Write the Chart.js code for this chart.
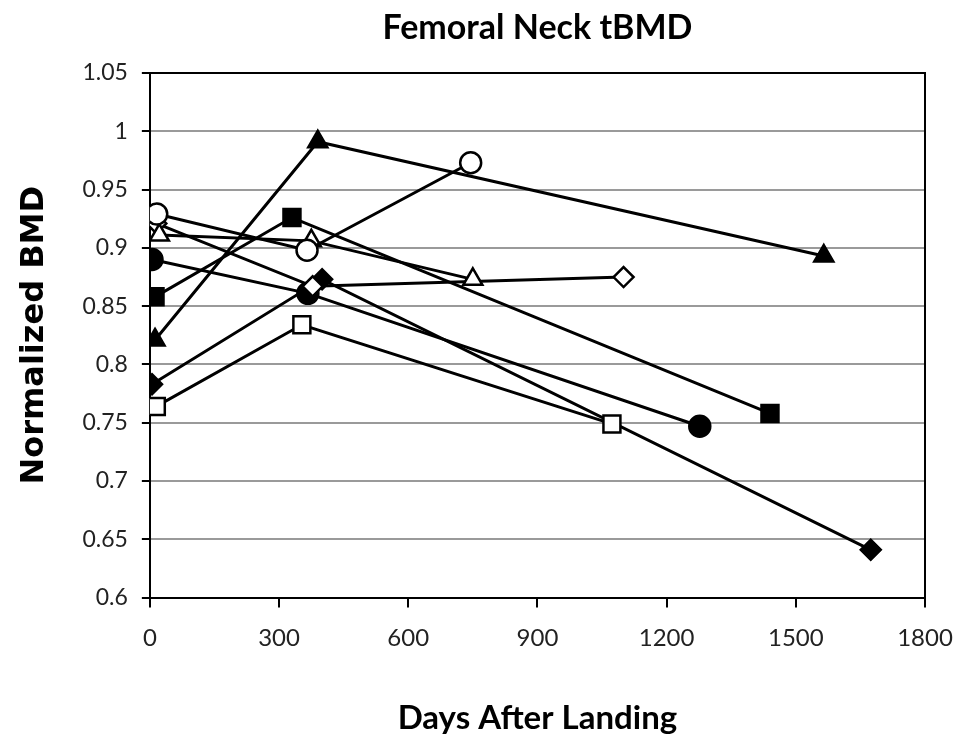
<!DOCTYPE html>
<html>
<head>
<meta charset="utf-8">
<title>Femoral Neck tBMD</title>
<script src="https://cdn.jsdelivr.net/npm/chart.js@4.4.1/dist/chart.umd.min.js"></script>
<style>
  html, body { margin: 0; padding: 0; background: #fff; }
  #wrap { width: 973px; height: 738px; }
</style>
</head>
<body>
<div id="wrap"><canvas id="bmdChart" width="973" height="738"></canvas></div>
<script>
  const chartTitle = 'Femoral Neck tBMD';

  // axis ticks
  const xTicks = [0, 300, 600, 900, 1200, 1500, 1800];
  const yTicks = [0.6, 0.65, 0.7, 0.75, 0.8, 0.85, 0.9, 0.95, 1, 1.05];

  // one subject per marker: days after landing and normalized BMD
  const openSquareDays = [15, 353, 1073];
  const openSquareBMD = [0.764, 0.834, 0.749];

  const filledTriangleDays = [12, 390, 1565];
  const filledTriangleBMD = [0.821, 0.991, 0.893];

  const openCircleDays = [16, 365, 745];
  const openCircleBMD = [0.929, 0.898, 0.973];

  const filledSquareDays = [12, 330, 1440];
  const filledSquareBMD = [0.858, 0.926, 0.758];

  const openTriangleDays = [22, 375, 750];
  const openTriangleBMD = [0.911, 0.906, 0.873];

  const openDiamondDays = [15, 378, 1100];
  const openDiamondBMD = [0.921, 0.867, 0.875];

  const filledCircleDays = [5, 367, 1277];
  const filledCircleBMD = [0.890, 0.861, 0.747];

  const filledDiamondDays = [5, 400, 1674];
  const filledDiamondBMD = [0.783, 0.873, 0.641];

  const fontFamily = 'Lato, "Open Sans", sans-serif';

  function makeSeries(label, days, values, pointStyle, filled, radius) {
    return {
      label,
      data: days.map((d, i) => ({ x: d, y: values[i] })),
      showLine: true,
      borderColor: '#000',
      borderWidth: 3,
      pointStyle,
      pointRadius: radius,
      pointHoverRadius: radius,
      pointBackgroundColor: filled ? '#000' : '#fff',
      pointBorderColor: '#000',
      pointBorderWidth: 2.5,
    };
  }

  const datasets = [
    makeSeries('Open square', openSquareDays, openSquareBMD, 'rect', false, 12),
    makeSeries('Filled triangle', filledTriangleDays, filledTriangleBMD, 'triangle', true, 11),
    makeSeries('Open circle', openCircleDays, openCircleBMD, 'circle', false, 10.5),
    makeSeries('Filled square', filledSquareDays, filledSquareBMD, 'rect', true, 12),
    makeSeries('Open triangle', openTriangleDays, openTriangleBMD, 'triangle', false, 11),
    makeSeries('Open diamond', openDiamondDays, openDiamondBMD, 'rectRot', false, 10),
    makeSeries('Filled circle', filledCircleDays, filledCircleBMD, 'circle', true, 10.5),
    makeSeries('Filled diamond', filledDiamondDays, filledDiamondBMD, 'rectRot', true, 10),
  ];

  // top and right edges of the plot box, title centred over the plot
  const frameBox = {
    id: 'frameBox',
    afterDraw(chart) {
      const { ctx, chartArea } = chart;
      ctx.save();
      ctx.strokeStyle = '#000';
      ctx.lineWidth = 2;
      ctx.beginPath();
      ctx.moveTo(chartArea.left, chartArea.top);
      ctx.lineTo(chartArea.right, chartArea.top);
      ctx.lineTo(chartArea.right, chartArea.bottom);
      ctx.stroke();

      ctx.fillStyle = '#000';
      ctx.font = `bold 34px ${fontFamily}`;
      ctx.textAlign = 'center';
      ctx.textBaseline = 'middle';
      ctx.fillText(chartTitle, (chartArea.left + chartArea.right) / 2, 28);
      ctx.restore();
    },
  };

  new Chart(document.getElementById('bmdChart'), {
    type: 'scatter',
    data: { datasets },
    options: {
      responsive: false,
      animation: false,
      layout: { padding: { top: 73, right: 48, bottom: 0, left: 15 } },
      plugins: {
        legend: { display: false },
        tooltip: { enabled: false },
        title: { display: false },
      },
      scales: {
        x: {
          type: 'linear',
          min: 0,
          max: 1800,
          afterBuildTicks(axis) {
            axis.ticks = xTicks.map((v) => ({ value: v }));
          },
          grid: {
            drawOnChartArea: false,
            tickLength: 10,
            tickColor: '#000',
            lineWidth: 2,
          },
          border: { color: '#000', width: 2 },
          ticks: {
            color: '#222',
            padding: 16,
            font: { family: fontFamily, size: 24 },
            callback: (v) => String(v),
          },
          title: {
            display: true,
            text: 'Days After Landing',
            color: '#000',
            font: { family: fontFamily, size: 33, weight: 'bold' },
            padding: { top: 30, bottom: 0 },
          },
        },
        y: {
          type: 'linear',
          min: 0.6,
          max: 1.05,
          afterBuildTicks(axis) {
            axis.ticks = yTicks.map((v) => ({ value: v }));
          },
          grid: {
            color: '#9a9a9a',
            lineWidth: 2,
            tickLength: 8,
            tickColor: '#000',
          },
          border: { color: '#000', width: 2 },
          ticks: {
            color: '#222',
            padding: 14,
            font: { family: fontFamily, size: 23 },
            callback: (v) => String(Number(v.toFixed(2))),
          },
          title: {
            display: true,
            text: 'Normalized BMD',
            color: '#000',
            font: { family: '"DejaVu Sans", sans-serif', size: 32, weight: 'bold' },
            padding: { top: 0, bottom: 15 },
          },
        },
      },
    },
    plugins: [frameBox],
  });
</script>
</body>
</html>
